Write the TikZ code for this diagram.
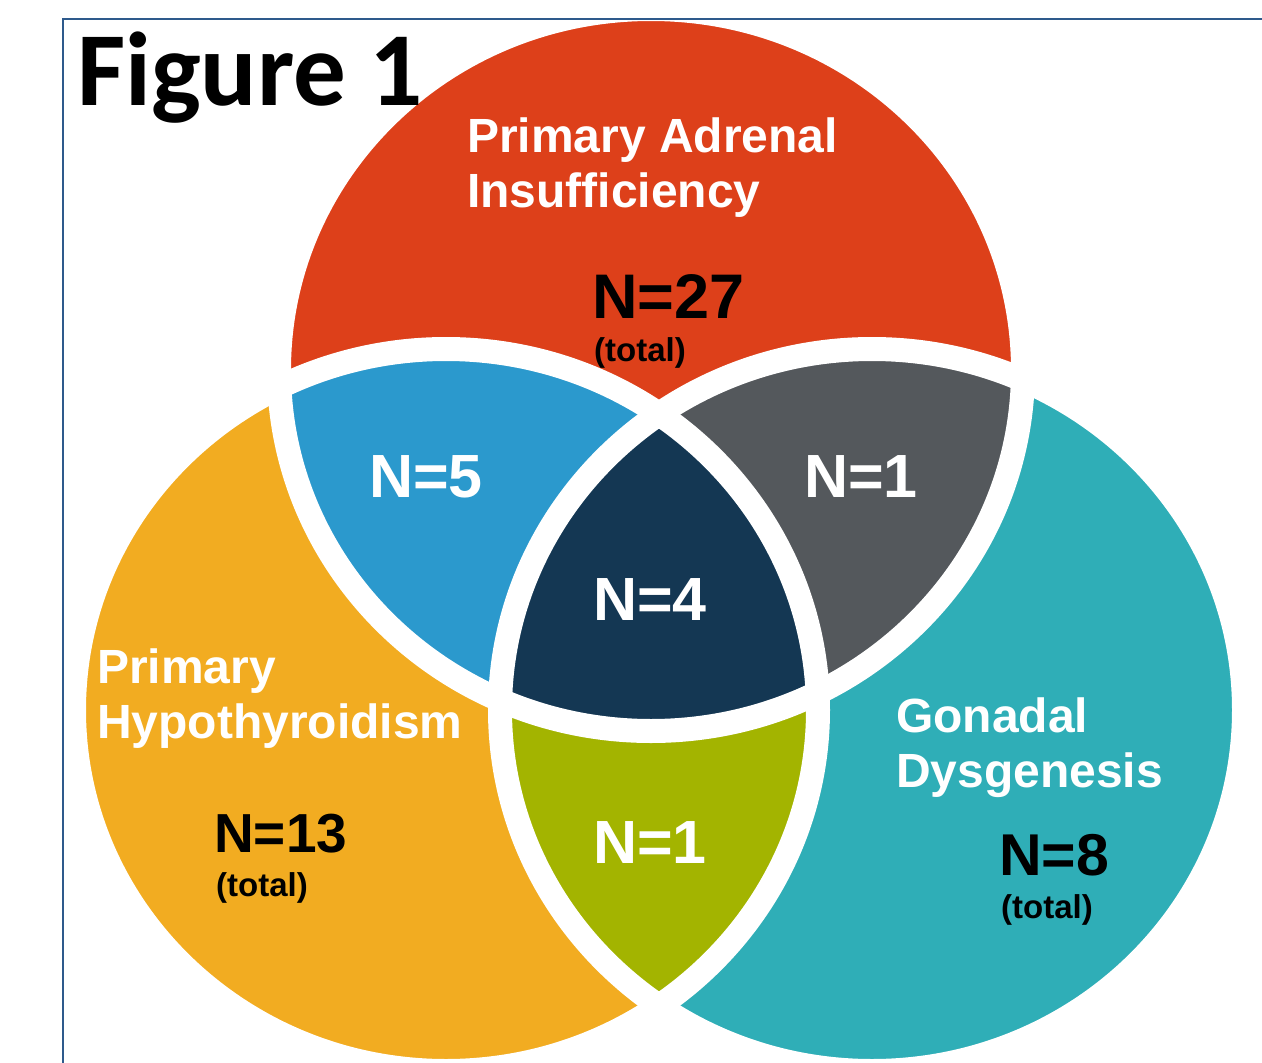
\documentclass[tikz,border=0pt]{standalone}
\usepackage{fontspec}
\setmainfont{Liberation Sans}
\newfontfamily\titlefont{Carlito}

\definecolor{adrenalred}{RGB}{221,64,26}
\definecolor{thyroidorange}{RGB}{242,172,33}
\definecolor{gonadteal}{RGB}{47,174,183}
\definecolor{adthyblue}{RGB}{43,153,205}
\definecolor{adgongray}{RGB}{84,88,92}
\definecolor{thygongreen}{RGB}{163,180,0}
\definecolor{allnavy}{RGB}{20,55,83}
\definecolor{framecol}{RGB}{46,90,140}

\begin{document}
\begin{tikzpicture}[x=1pt,y=-1pt,
    venn radii/.style={x radius=372, y radius=361},
    setlabel/.style={text=white, font=\bfseries\fontsize{48}{55}\selectfont, align=left, inner sep=0pt, anchor=base west},
    overlapcount/.style={text=white, font=\bfseries\fontsize{61}{61}\selectfont, inner sep=0pt, anchor=base west},
    totalcount/.style={text=black, font=\bfseries\fontsize{#1}{#1}\selectfont, inner sep=0pt, anchor=base west},
    totalnote/.style={text=black, font=\bfseries\fontsize{33}{33}\selectfont, inner sep=0pt, anchor=base west}]

    \useasboundingbox (0,0) rectangle (1262,1063);

    % Centres of the three sets
    \coordinate (adrenalc) at (651,370);
    \coordinate (thyroidc) at (446,710);
    \coordinate (gonadc) at (872,710);

    % The three sets
    \fill[adrenalred] (adrenalc) ellipse [venn radii];
    \fill[thyroidorange] (thyroidc) ellipse [venn radii];
    \fill[gonadteal] (gonadc) ellipse [venn radii];

    % Thyroid and gonadal overlap
    \begin{scope}
        \clip (thyroidc) ellipse [venn radii];
        \fill[thygongreen] (gonadc) ellipse [venn radii];
    \end{scope}

    % Overlaps with the adrenal set, then all three
    \begin{scope}
        \clip (adrenalc) ellipse [venn radii];
        \fill[adthyblue] (thyroidc) ellipse [venn radii];
        \fill[adgongray] (gonadc) ellipse [venn radii];
        \clip (thyroidc) ellipse [venn radii];
        \fill[allnavy] (gonadc) ellipse [venn radii];
    \end{scope}

    % White gaps between the regions
    \draw[white, line width=24] (adrenalc) ellipse [venn radii];
    \draw[white, line width=24] (thyroidc) ellipse [venn radii];
    \draw[white, line width=24] (gonadc) ellipse [venn radii];

    % Title
    \node[font=\titlefont\bfseries\fontsize{105}{105}\selectfont, inner sep=0pt, anchor=base west] (figtitle) at (77,105) {Figure 1};

    % Set names (anchored at the last line)
    \node[setlabel] (adrenallab) at (467,207) {Primary Adrenal\\Insufficiency};
    \node[setlabel] (thyroidlab) at (97,738) {Primary\\Hypothyroidism};
    \node[setlabel] (gonadlab) at (896,787) {Gonadal\\Dysgenesis};

    % Totals
    \node[totalcount=63] (adrenaln) at (592,318) {N=27};
    \node[totalnote] (adrenaltot) at (594,361) {(total)};
    \node[totalcount=55] (thyroidn) at (214,852) {N=13};
    \node[totalnote] (thyroidtot) at (216,896) {(total)};
    \node[totalcount=59] (gonadn) at (999,875) {N=8};
    \node[totalnote] (gonadtot) at (1001,918) {(total)};

    % Overlap counts
    \node[overlapcount] (adthyn) at (369,497) {N=5};
    \node[overlapcount] (adgonn) at (804,497) {N=1};
    \node[overlapcount] (alln) at (593,620) {N=4};
    \node[overlapcount] (thygonn) at (593,863) {N=1};

    % Frame
    \draw[framecol, line width=2.2] (63,1063) -- (63,19) -- (1262,19);
\end{tikzpicture}
\end{document}
